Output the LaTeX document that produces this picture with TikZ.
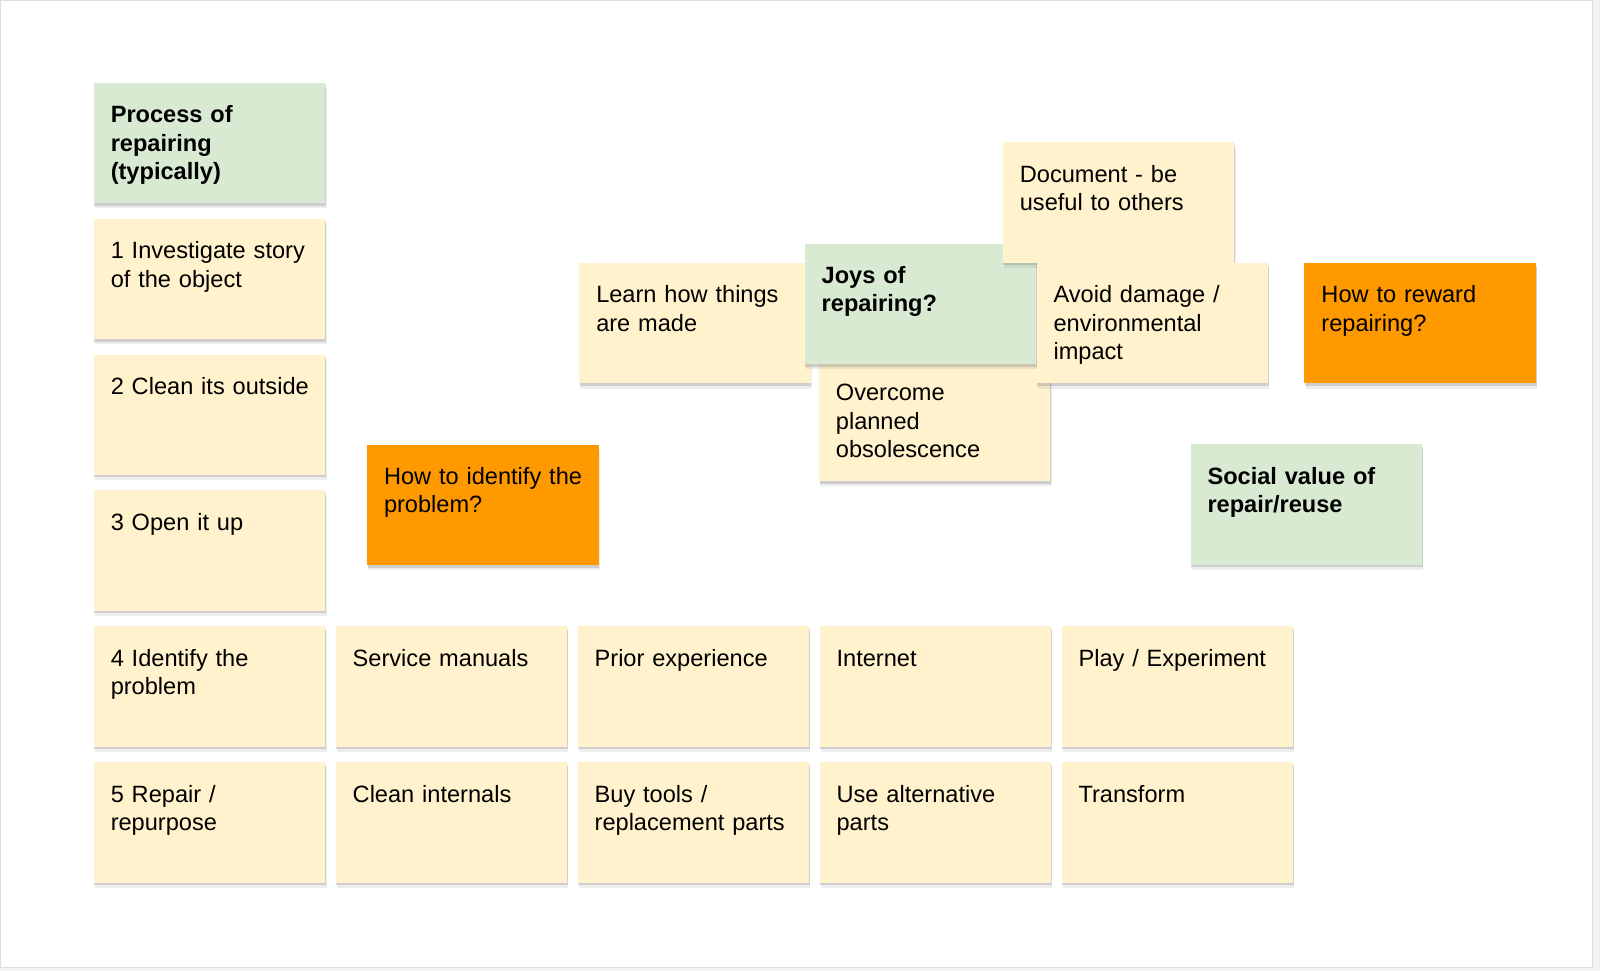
\documentclass[tikz,border=0pt]{standalone}
\usepackage{fontspec}
\setmainfont{Liberation Sans}
\usetikzlibrary{shadows}
\definecolor{notey}{HTML}{FFF2CC}
\definecolor{noteg}{HTML}{D9EAD3}
\definecolor{noteo}{HTML}{FF9900}
\definecolor{slideedge}{HTML}{DADCE0}
\definecolor{canvas}{HTML}{F1F3F4}

\begin{document}
\begin{tikzpicture}[
  x=0.5pt, y=-0.5pt,
  font=\fontsize{11.8}{14.2}\selectfont,
  note/.style={anchor=north west, fill=notey, text width=104pt,
    execute at begin node={\leftskip=2.6pt\rightskip=0pt plus 1fil},
    inner xsep=5.9pt, inner ysep=0pt, text height=20pt, text depth=40.2pt,
    drop shadow={shadow xshift=0.6pt, shadow yshift=-2.6pt, opacity=0.14},
    drop shadow={shadow xshift=0.3pt, shadow yshift=-1.3pt, opacity=0.28}},
  head/.style={note, fill=noteg, font=\fontsize{11.8}{14.2}\selectfont\bfseries},
  ask/.style={note, fill=noteo}
]

% slide
\fill[canvas] (0,0) rectangle (1600,971);
\draw[slideedge, fill=white] (0,0) rectangle (1592.5,967.5);
\useasboundingbox (0,0) rectangle (1600,971);

% process column
\node[head] (proc) at (93,82) {Process of\\repairing\\(typically)};
\node[note] (step1) at (93,217.9) {1 Investigate story\\of the object};
\node[note] (step2) at (93,353.8) {2 Clean its outside};
\node[note] (step3) at (93,489.7) {3 Open it up};
\node[note] (step4) at (93,625.6) {4 Identify the\\problem};
\node[note] (step5) at (93,761.5) {5 Repair /\\repurpose};

% ways to identify
\node[note] (manuals) at (335,625.6) {Service manuals};
\node[note] (prior) at (577,625.6) {Prior experience};
\node[note] (web) at (819,625.6) {Internet};
\node[note] (play) at (1061,625.6) {Play / Experiment};

% ways to repair
\node[note] (inner) at (335,761.5) {Clean internals};
\node[note] (tools) at (577,761.5) {Buy tools /\\replacement parts};
\node[note] (altparts) at (819,761.5) {Use alternative\\parts};
\node[note] (transform) at (1061,761.5) {Transform};

\node[ask] (howid) at (366.3,443.9) {How to identify the\\problem?};

% joys cluster
\node[note] (learn) at (578.6,262.2) {Learn how things\\are made};
\node[note] (obsol) at (818.3,360) {Overcome\\planned\\obsolescence};
\node[head] (joys) at (804.1,242.8) {Joys of\\repairing?};
\node[note] (docu) at (1002.3,141.7) {Document - be\\useful to others};
\node[note] (avoid) at (1036,262.2) {Avoid damage /\\environmental\\impact};

\node[ask] (reward) at (1304,262.2) {How to reward\\repairing?};
\node[head] (social) at (1190,443.6) {Social value of\\repair/reuse};

\end{tikzpicture}
\end{document}
